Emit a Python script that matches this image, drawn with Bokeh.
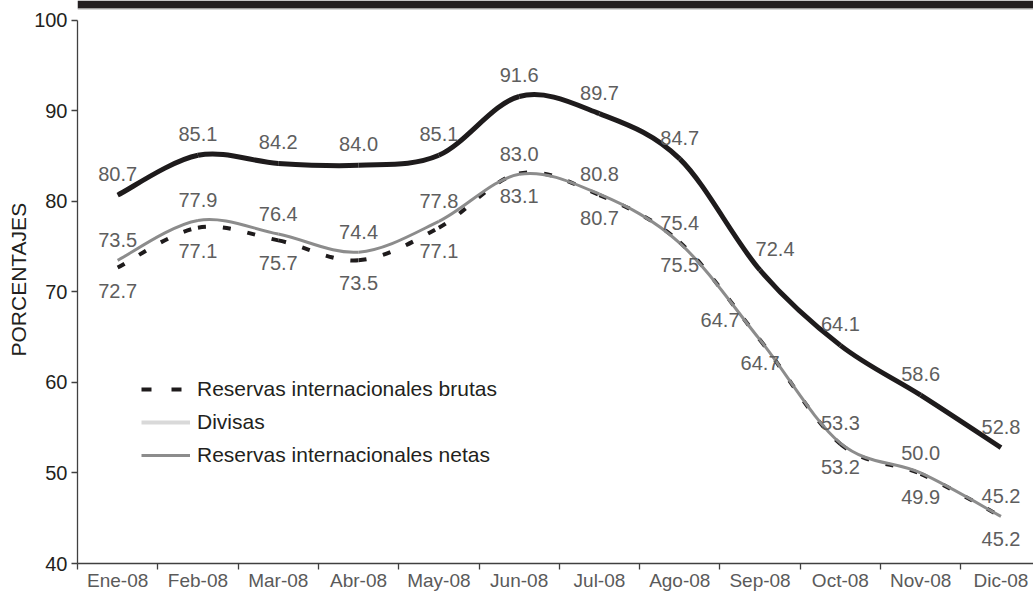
import numpy as np
from bokeh.plotting import figure
from bokeh.models import (Range1d, FixedTicker, ColumnDataSource, Legend, LegendItem,
                          Title, Span, BoxAnnotation)
from bokeh.embed import file_html
from bokeh.resources import INLINE
from bokeh.core.properties import value

# ---------------- data ----------------
months = ["Ene-08", "Feb-08", "Mar-08", "Abr-08", "May-08", "Jun-08",
          "Jul-08", "Ago-08", "Sep-08", "Oct-08", "Nov-08", "Dic-08"]
divisas = [80.7, 85.1, 84.2, 84.0, 85.1, 91.6, 89.7, 84.7, 72.4, 64.1, 58.6, 52.8]
netas = [73.5, 77.9, 76.4, 74.4, 77.8, 83.0, 80.8, 75.4, 64.7, 53.3, 50.0, 45.2]
brutas = [72.7, 77.1, 75.7, 73.5, 77.1, 83.1, 80.7, 75.5, 64.7, 53.2, 49.9, 45.2]
y_ticks = [40, 50, 60, 70, 80, 90, 100]
legend_labels = ["Reservas internacionales brutas", "Divisas", "Reservas internacionales netas"]
y_label = "PORCENTAJES"

# label nudges (screen px) for a few data labels
divisas_dx = [0, 0, 0, 0, 0, 0, 0, 0, 15, 0, 0, 0]
netas_dx = [0, 0, 0, 0, 0, 0, 0, 0, -40, 0, 0, 0]

FONT = "Liberation Sans"
BLACK = "#1e1b1c"
GRAY = "#8c8c8c"
LIGHT = "#d9d9d9"
LABEL_COLOR = "#5e5e5e"

xpos = [i + 0.5 for i in range(len(months))]
Y_MIN, Y_MAX = y_ticks[0], y_ticks[-1]
PX_PER_UNIT = 545 / (Y_MAX - Y_MIN)        # plot area 20px..565px
Y_TOP = Y_MAX + 20 / PX_PER_UNIT           # headroom up to the top of the picture


def smooth(xs, ys):
    x = np.asarray(xs, float)
    y = np.asarray(ys, float)
    xp = np.concatenate([[x[0]], x, [x[-1]]])
    yp = np.concatenate([[y[0]], y, [y[-1]]])
    n = len(x)
    i = np.arange(n - 1)
    cx0 = x[i] + (x[i + 1] - xp[i]) / 6.0
    cy0 = y[i] + (y[i + 1] - yp[i]) / 6.0
    cx1 = x[i + 1] - (xp[i + 3] - x[i]) / 6.0
    cy1 = y[i + 1] - (yp[i + 3] - y[i]) / 6.0
    return dict(x0=x[:-1], y0=y[:-1], x1=x[1:], y1=y[1:],
                cx0=cx0, cy0=cy0, cx1=cx1, cy1=cy1)


# ---------------- chart ----------------
p = figure(width=1033, height=593, x_range=Range1d(0, 11.905), y_range=Range1d(Y_MIN, Y_TOP),
           toolbar_location=None, output_backend="svg", title=None,
           min_border_left=77, min_border_right=0, min_border_top=0, min_border_bottom=28,
           outline_line_color=None, background_fill_color="white")
p.grid.visible = False

# dark header strip at the very top (its title is cropped off in the source)
strip_bottom = Y_TOP - 8 / PX_PER_UNIT
p.add_layout(BoxAnnotation(bottom=strip_bottom, fill_color="#231f20", fill_alpha=1,
                           line_alpha=0, level="underlay"))
p.add_layout(Span(location=strip_bottom - 0.5 / PX_PER_UNIT, dimension="width",
                  line_color="#a8a8a8", line_width=1))

# lines
p.bezier(source=ColumnDataSource(smooth(xpos, brutas)), x0="x0", y0="y0", x1="x1", y1="y1",
         cx0="cx0", cy0="cy0", cx1="cx1", cy1="cy1",
         line_color=BLACK, line_width=4, line_dash="8 17")
p.bezier(source=ColumnDataSource(smooth(xpos, netas)), x0="x0", y0="y0", x1="x1", y1="y1",
         cx0="cx0", cy0="cy0", cx1="cx1", cy1="cy1",
         line_color=GRAY, line_width=3)
p.bezier(source=ColumnDataSource(smooth(xpos, divisas)), x0="x0", y0="y0", x1="x1", y1="y1",
         cx0="cx0", cy0="cy0", cx1="cx1", cy1="cy1",
         line_color=BLACK, line_width=5)

# data labels
def add_labels(vals, dy, dx=None):
    src = ColumnDataSource(dict(x=xpos, y=vals, t=["%.1f" % v for v in vals],
                                dx=dx if dx is not None else [0] * len(vals)))
    p.text(x="x", y="y", text="t", source=src, x_offset="dx", y_offset=dy,
           text_color=LABEL_COLOR, text_font=value(FONT), text_font_size="20px",
           text_align="center", text_baseline="middle")

add_labels(divisas, -21, divisas_dx)
add_labels(netas, -20, netas_dx)
add_labels(brutas, 23)

# legend (legend-only renderers, one empty point each)
r_b = p.line(x=[np.nan], y=[np.nan], line_color=BLACK, line_width=4, line_dash="10 20")
r_d = p.line(x=[np.nan], y=[np.nan], line_color=LIGHT, line_width=4)
r_n = p.line(x=[np.nan], y=[np.nan], line_color=GRAY, line_width=3)
legend = Legend(items=[LegendItem(label=legend_labels[0], renderers=[r_b]),
                       LegendItem(label=legend_labels[1], renderers=[r_d]),
                       LegendItem(label=legend_labels[2], renderers=[r_n])],
                location=(64, 96), orientation="vertical", padding=0, margin=0,
                spacing=9, glyph_width=49, glyph_height=24, label_height=24,
                label_standoff=7, label_text_font=FONT, label_text_font_size="21px",
                label_text_color="#231f20", border_line_alpha=0,
                background_fill_alpha=0)
p.add_layout(legend, "center")

# axes
xa = p.xaxis[0]
xa.ticker = FixedTicker(ticks=xpos, minor_ticks=list(range(0, len(months) + 1)))
xa.major_label_overrides = {x: m for x, m in zip(xpos, months)}
xa.major_tick_out = 0
xa.major_tick_in = 0
xa.minor_tick_out = 6
xa.minor_tick_in = 0
xa.minor_tick_line_color = "#404040"
xa.minor_tick_line_width = 1.3
xa.major_label_standoff = 0
xa.major_label_text_font = FONT
xa.major_label_text_font_size = "19px"
xa.major_label_text_color = "#5a5a5a"
xa.axis_line_color = "#404040"
xa.axis_line_width = 1.3

ya = p.yaxis[0]
ya.ticker = FixedTicker(ticks=y_ticks)
ya.bounds = (Y_MIN, Y_MAX)
ya.major_tick_out = 6
ya.major_tick_in = 0
ya.minor_tick_line_color = None
ya.major_tick_line_color = "#404040"
ya.major_tick_line_width = 1.3
ya.major_label_standoff = 4
ya.major_label_text_font = FONT
ya.major_label_text_font_size = "20px"
ya.major_label_text_color = "#231f20"
ya.axis_line_color = "#404040"
ya.axis_line_width = 1.3

# vertical axis title
p.add_layout(Title(text=y_label, align="left", offset=207, standoff=4,
                   text_font=FONT, text_font_size="21px", text_font_style="normal",
                   text_color="#231f20"), "left")

open("out.html", "w").write(file_html(p, INLINE))
